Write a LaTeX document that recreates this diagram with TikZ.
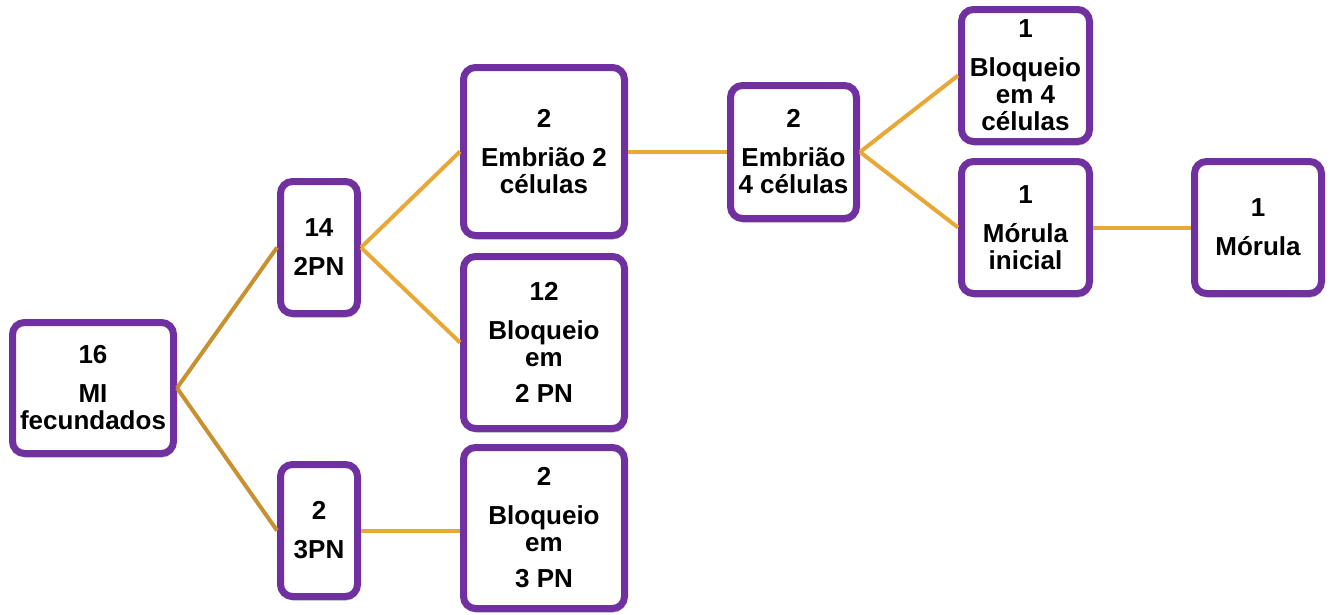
\documentclass[tikz,border=0pt]{standalone}
\usepackage{fontspec}
\setmainfont{Liberation Sans}
\usetikzlibrary{shadows}
\definecolor{boxpurple}{HTML}{7030A0}
\definecolor{linkorange}{HTML}{E8A838}
\definecolor{linkgold}{HTML}{C9902F}
\tikzset{
  stagebox/.style={rectangle, rounded corners=12pt, draw=boxpurple, line width=7pt,
    fill=white, inner sep=0pt, align=center,
    font=\bfseries\fontsize{26}{27}\selectfont,
    drop shadow={shadow xshift=1pt, shadow yshift=-4pt, opacity=0.35, fill=black!70}},
  link/.style={draw=linkorange, line width=4pt},
  firstlink/.style={draw=linkgold, line width=4pt}
}
\begin{document}
\begin{tikzpicture}[x=1pt,y=-1pt]
\useasboundingbox (0,0) rectangle (1333,614);
\node[stagebox, minimum width=161pt, minimum height=131pt] (A) at (93,388) {16\\[12pt]MI\\fecundados};
\node[stagebox, minimum width=77pt, minimum height=132pt] (B) at (319,247.5) {14\\[12pt]2PN};
\node[stagebox, minimum width=77pt, minimum height=132pt] (C) at (319,530.5) {2\\[12pt]3PN};
\node[stagebox, minimum width=161pt, minimum height=168pt] (D) at (544,151.5) {2\\[12pt]Embrião 2\\células};
\node[stagebox, minimum width=161pt, minimum height=172pt] (E) at (544,342.5) {12\\[12pt]Bloqueio\\em\\[9pt]2 PN};
\node[stagebox, minimum width=161pt, minimum height=161pt] (F) at (544,528) {2\\[12pt]Bloqueio\\em\\[9pt]3 PN};
\node[stagebox, minimum width=126pt, minimum height=133pt] (G) at (793.5,152) {2\\[12pt]Embrião\\4 células};
\node[stagebox, minimum width=128pt, minimum height=132pt] (H) at (1025.5,75.5) {1\\[12pt]Bloqueio\\em 4\\células};
\node[stagebox, minimum width=128pt, minimum height=132pt] (I) at (1025.5,227.5) {1\\[12pt]Mórula\\inicial};
\node[stagebox, minimum width=127pt, minimum height=132pt] (J) at (1258,227.5) {1\\[12pt]Mórula};
\draw[firstlink] (A.east) -- (B.west);
\draw[firstlink] (A.east) -- (C.west);
\draw[link] (B.east) -- (D.west);
\draw[link] (B.east) -- (E.west);
\draw[link] (C.east) -- (C.east -| F.west);
\draw[link] (D.east) -- (D.east -| G.west);
\draw[link] (G.east) -- (H.west);
\draw[link] (G.east) -- (I.west);
\draw[link] (I.east) -- (J.west);
\end{tikzpicture}
\end{document}
